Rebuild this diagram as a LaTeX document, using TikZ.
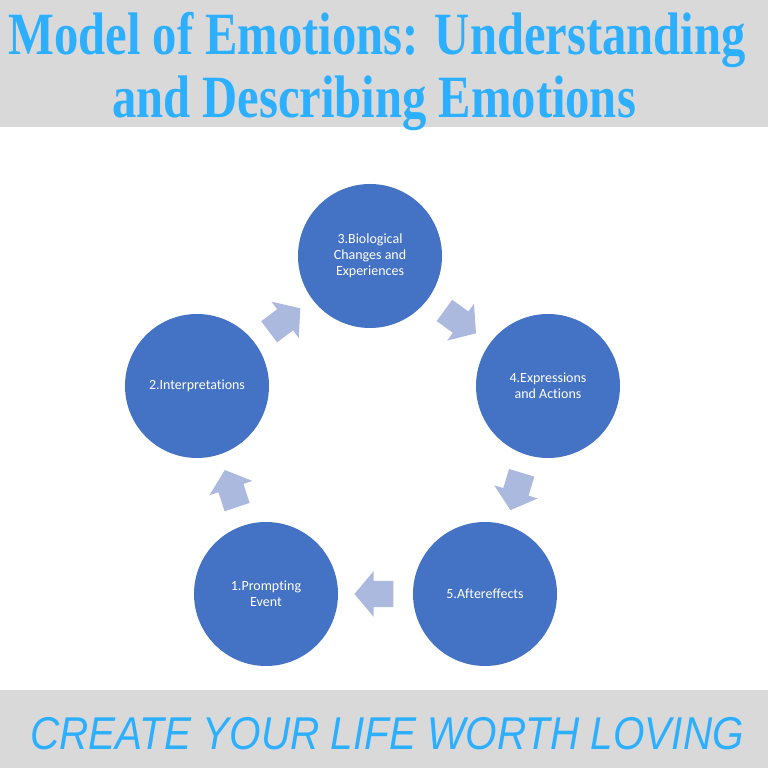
\documentclass[tikz,border=0pt]{standalone}
\usepackage{fontspec}
\setmainfont{Carlito}[Ligatures=NoCommon]
\newfontfamily\titlefont{Liberation Serif}[FakeStretch=0.81]
\newfontfamily\mottofont{Liberation Sans}[FakeStretch=0.88]
\usetikzlibrary{shapes.arrows,calc}
\definecolor{bandgray}{RGB}{217,217,217}
\definecolor{titleblue}{RGB}{45,175,255}
\definecolor{stageblue}{RGB}{68,114,196}
\definecolor{flowblue}{RGB}{170,185,221}
\begin{document}
\begin{tikzpicture}[x=1pt,y=1pt,
  stage/.style={circle, fill=stageblue, minimum size=144pt, inner sep=0pt,
    text=white, align=center, font=\fontsize{14}{16}\selectfont},
  flow/.style={single arrow, fill=flowblue, minimum height=39pt, inner xsep=0pt, inner ysep=13pt,
    single arrow head extend=9.5pt, single arrow tip angle=100},
  heading/.style={anchor=base, inner sep=0pt, text=titleblue}]

% Page and background
\useasboundingbox (0,0) rectangle (768,768);
\fill[white] (0,0) rectangle (768,768);

% Grey bands for title and motto
\fill[bandgray] (0,641) rectangle (768,768);
\fill[bandgray] (0,0) rectangle (768,78);

% Title
\node[heading, font=\titlefont\bfseries\fontsize{60}{60}\selectfont] (title1) at (377,713) {Model of Emotions: Understanding};
\node[heading, font=\titlefont\bfseries\fontsize{60}{60}\selectfont] (title2) at (374,650) {and Describing Emotions};

% The five stages
\node[stage] (c1) at (266,174) {1.Prompting\\Event};
\node[stage] (c2) at (197,382) {2.Interpretations};
\node[stage] (c3) at (370,512) {3.Biological\\Changes and\\Experiences};
\node[stage] (c4) at (548,382) {4.Expressions\\and Actions};
\node[stage] (c5) at (485,174) {5.Aftereffects};

% Block arrows between the stages
\node[flow, rotate=108.4, xshift=-4pt] (f12) at ($(c1)!0.5!(c2)$) {};
\node[flow, rotate=36.9, xshift=-4pt] (f23) at ($(c2)!0.5!(c3)$) {};
\node[flow, rotate=-36.1, xshift=-4pt] (f34) at ($(c3)!0.5!(c4)$) {};
\node[flow, rotate=-106.8, xshift=-4pt] (f45) at ($(c4)!0.5!(c5)$) {};
\node[flow, rotate=180, xshift=-4pt] (f51) at ($(c5)!0.5!(c1)$) {};

% Motto
\node[heading, font=\mottofont\itshape\fontsize{46}{46}\selectfont] (motto) at (387,18) {CREATE YOUR LIFE WORTH LOVING};

\end{tikzpicture}
\end{document}
